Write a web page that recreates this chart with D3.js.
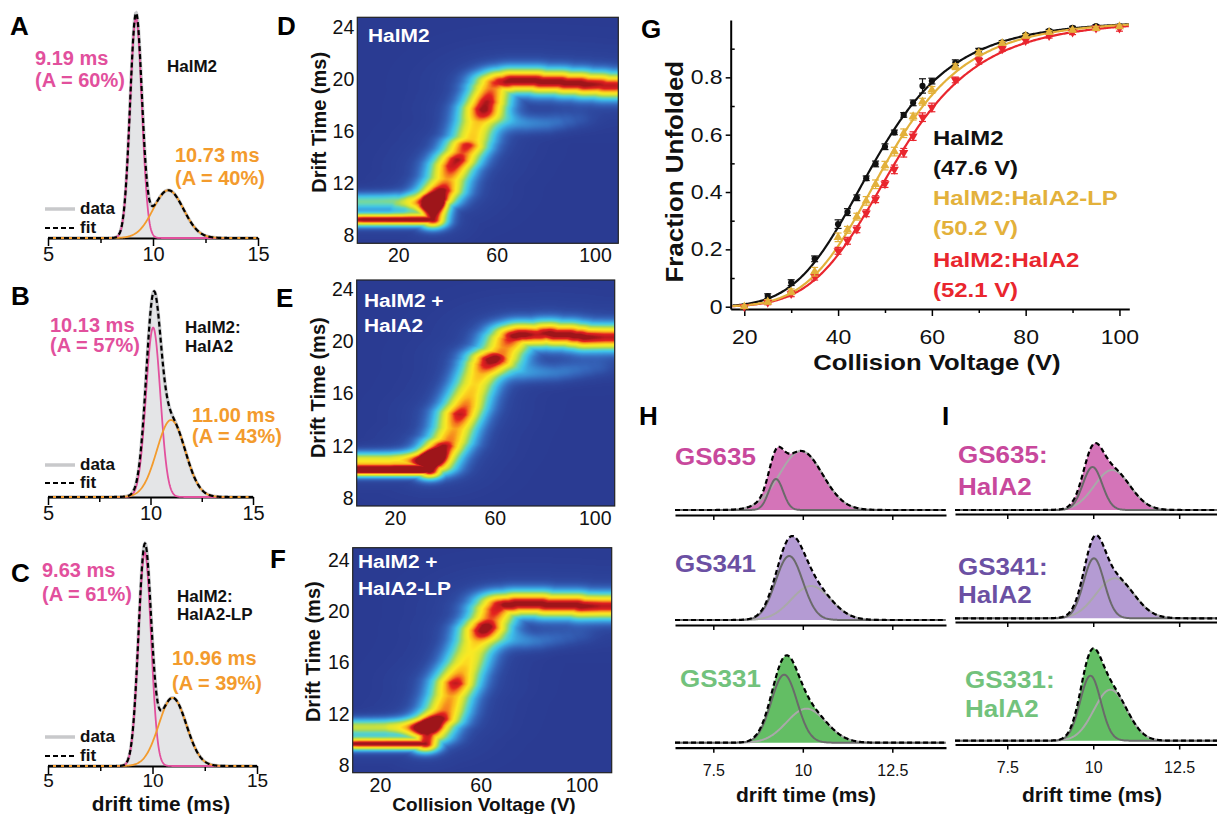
<!DOCTYPE html>
<html>
<head>
<meta charset="utf-8">
<script src="https://cdn.jsdelivr.net/npm/d3@7"></script>
<style>
  body { margin: 0; background: #fff; }
  svg { display: block; }
</style>
</head>
<body>
<script>
// ---------------- data ----------------

// A-C : arrival time distributions, two gaussian components each
const atdNames = [["HalM2"], ["HalM2:", "HalA2"], ["HalM2:", "HalA2-LP"]];
const fastCenter = [9.19, 10.13, 9.63];
const fastSigma = [0.28, 0.35, 0.30];
const fastHeight = [1.0, 0.77, 0.97];
const fastArea = [60, 57, 61];
const slowCenter = [10.73, 11.00, 10.96];
const slowSigma = [0.72, 0.69, 0.66];
const slowHeight = [0.217, 0.35, 0.31];
const slowArea = [40, 43, 39];

// D-F : CIU fingerprints, main feature centroid (ms) per collision voltage
const ciuTitles = [["HalM2"], ["HalM2 +", "HalA2"], ["HalM2 +", "HalA2-LP"]];
const voltsDE = [4,6,8,10,12,14,16,18,20,22,24,26,28,30,32,34,36,38,40,42,44,46,48,50,52,54,56,58,60,62,64,66,68,70,72,74,76,78,80,82,84,86,88,90,92,94,96,98,100,102,104,106,108];
const voltsF = [10,12,14,16,18,20,22,24,26,28,30,32,34,36,38,40,42,44,46,48,50,52,54,56,58,60,62,64,66,68,70,72,74,76,78,80,82,84,86,88,90,92,94,96,98,100,102,104,106,108,110,112];
const driftD = [9.2,9.2,9.2,9.2,9.2,9.2,9.2,9.2,9.2,9.2,9.2,9.2,9.2,9.2,9.2,9.2,
  11.0,11.5,12.3,13.3,13.8,14.3,14.9,15.4,16.7,17.7,18.3,19.3,19.7,
  19.8,19.8,19.9,19.9,19.9,19.9,19.9,19.9,19.8,19.8,19.8,19.8,19.8,19.7,19.7,19.7,19.7,19.6,19.6,19.6,19.6,19.5,19.5,19.5];
const ampD = [0.95,0.97,0.97,0.97,0.97,0.97,0.97,0.97,0.97,0.97,0.97,0.97,0.97,0.97,0.97,0.95,
  0.85,0.93,0.78,0.92,0.95,0.85,0.9,0.72,0.7,0.9,0.93,0.82,0.88,
  0.92,0.95,0.97,0.97,0.97,0.97,0.97,0.97,0.97,0.97,0.97,0.97,0.97,0.97,0.97,0.97,0.97,0.97,0.96,0.95,0.94,0.93,0.93,0.93];
const widthD = [0.33,0.33,0.33,0.33,0.33,0.33,0.33,0.33,0.33,0.33,0.33,0.33,0.33,0.33,0.33,0.33,
  0.6,0.6,0.6,0.6,0.6,0.6,0.6,0.6,0.6,0.6,0.6,0.62,0.65,
  0.68,0.68,0.68,0.68,0.68,0.68,0.68,0.68,0.68,0.68,0.68,0.68,0.68,0.68,0.68,0.68,0.68,0.68,0.68,0.68,0.68,0.68,0.68,0.68];
const driftE = [10.1,10.1,10.1,10.1,10.1,10.1,10.1,10.1,10.1,10.1,10.1,10.1,10.1,10.1,10.1,10.1,
  10.6,11.4,12.0,12.4,13.3,14.4,15.0,15.9,16.7,17.5,18.2,18.6,18.8,
  19.0,19.5,20.1,20.4,20.5,20.5,20.5,20.5,20.5,20.6,20.6,20.5,20.5,20.5,20.5,20.4,20.4,20.3,20.3,20.3,20.3,20.3,20.3,20.3];
const ampE = [0.95,0.97,0.97,0.97,0.97,0.97,0.97,0.97,0.97,0.97,0.97,0.97,0.97,0.97,0.97,0.95,
  0.8,0.88,0.93,0.82,0.78,0.93,0.84,0.74,0.7,0.74,0.84,0.93,0.92,
  0.8,0.8,0.88,0.97,0.97,0.97,0.95,0.93,0.93,0.95,0.97,0.97,0.97,0.97,0.97,0.97,0.97,0.97,0.96,0.95,0.94,0.93,0.93,0.93];
const widthE = [0.32,0.32,0.32,0.32,0.32,0.32,0.32,0.32,0.32,0.32,0.32,0.32,0.32,0.32,0.32,0.32,
  0.6,0.6,0.6,0.6,0.6,0.6,0.6,0.6,0.6,0.6,0.6,0.62,0.65,
  0.66,0.68,0.68,0.68,0.68,0.68,0.68,0.68,0.68,0.68,0.68,0.68,0.68,0.68,0.68,0.68,0.68,0.68,0.68,0.68,0.68,0.68,0.68,0.68];
const driftF = [9.7,9.7,9.7,9.7,9.7,9.7,9.7,9.7,9.7,9.7,9.7,9.7,9.7,9.7,9.7,
  10.5,11.3,11.7,12.3,13.4,14.4,15.2,15.9,16.8,17.6,18.5,18.9,19.4,20.1,
  20.5,20.5,20.5,20.6,20.6,20.6,20.6,20.6,20.6,20.5,20.5,20.5,20.5,20.5,20.5,20.5,20.4,20.4,20.4,20.4,20.4,20.4,20.4];
const ampF = [0.95,0.97,0.97,0.97,0.97,0.97,0.97,0.97,0.97,0.97,0.97,0.97,0.97,0.97,0.95,
  0.75,0.85,0.93,0.82,0.78,0.93,0.78,0.7,0.66,0.7,0.88,0.93,0.84,0.9,
  0.93,0.97,0.97,0.97,0.97,0.97,0.97,0.97,0.97,0.97,0.97,0.97,0.97,0.97,0.97,0.97,0.97,0.96,0.95,0.94,0.93,0.93,0.93];
const widthF = [0.33,0.33,0.33,0.33,0.33,0.33,0.33,0.33,0.33,0.33,0.33,0.33,0.33,0.33,0.33,
  0.6,0.6,0.6,0.6,0.6,0.6,0.6,0.6,0.6,0.6,0.6,0.6,0.62,0.65,
  0.68,0.68,0.68,0.68,0.68,0.68,0.68,0.68,0.68,0.68,0.68,0.68,0.68,0.68,0.68,0.68,0.68,0.68,0.68,0.68,0.68,0.68,0.68];

// second conformer band at low voltage
const conf2Volts = [[4,6,8,10,12,14,16,18,20,22,24,26,28,30,32,34],
                    [4,6,8,10,12,14,16,18,20,22,24,26,28,30,32,34],
                    [10,12,14,16,18,20,22,24,26,28,30,32,34,36,38]];
const conf2Drift = [[10.6,10.6,10.6,10.6,10.6,10.6,10.6,10.6,10.5,10.5,10.5,10.4,10.4,10.4,10.5,10.6],
                    [10.9,10.9,10.9,10.9,10.9,10.9,10.9,10.9,10.9,10.9,10.9,10.9,10.9,10.9,11.0,11.1],
                    [11.0,11.0,11.0,11.0,11.0,11.0,11.0,11.0,11.0,11.0,11.0,11.0,11.0,11.0,11.1]];
const conf2Amp = [[0.42,0.42,0.42,0.42,0.42,0.42,0.42,0.42,0.46,0.5,0.54,0.57,0.6,0.62,0.62,0.56],
                  [0.6,0.6,0.6,0.6,0.6,0.6,0.6,0.6,0.62,0.62,0.62,0.62,0.62,0.62,0.62,0.58],
                  [0.55,0.55,0.55,0.55,0.55,0.55,0.55,0.58,0.58,0.58,0.58,0.58,0.58,0.58,0.52]];
// faint feature under the unfolded plateau
const ghostVolts = [[60,64,68,72,76,80,84,88,92],
                    [64,68,72,76,80,84,88,92,96,100],
                    [66,70,74,78,82,86,90,94,98]];
const ghostDrift = [[17.2,16.9,16.7,16.6,16.6,16.6,16.7,16.8,16.9],
                    [18.0,17.8,17.6,17.6,17.6,17.6,17.7,17.8,17.9,18.0],
                    [18.2,17.9,17.8,17.7,17.7,17.8,17.9,18.0,18.1]];
const ghostAmp = [[0.2,0.2,0.18,0.17,0.16,0.15,0.13,0.1,0.07],
                  [0.22,0.2,0.18,0.17,0.16,0.15,0.14,0.12,0.1,0.08],
                  [0.2,0.18,0.17,0.16,0.14,0.12,0.1,0.08,0.06]];

// G : fraction unfolded vs collision voltage
const cvG = [20,25,30,35,40,42,44,46,48,50,52,54,56,58,60,65,70,75,80,85,90,95,100];
const fuHalM2 = [0.0,0.037,0.084,0.167,0.288,0.33,0.38,0.448,0.498,0.558,0.608,0.669,0.711,0.77,0.787,0.851,0.893,0.922,0.948,0.962,0.973,0.979,0.979];
const fuHalA2LP = [0.0,0.017,0.052,0.122,0.242,0.268,0.314,0.369,0.427,0.492,0.541,0.605,0.663,0.715,0.756,0.837,0.886,0.919,0.944,0.957,0.965,0.971,0.977];
const fuHalA2 = [0.0,0.015,0.045,0.105,0.195,0.23,0.27,0.326,0.375,0.428,0.479,0.537,0.595,0.661,0.695,0.791,0.858,0.899,0.928,0.945,0.957,0.971,0.971];
const errHalM2 = [0.005,0.008,0.01,0.01,0.015,0.012,0.01,0.008,0.01,0.01,0.008,0.008,0.01,0.025,0.01,0.01,0.008,0.006,0.005,0.005,0.005,0.005,0.005];
const errHalA2LP = [0.005,0.008,0.01,0.015,0.015,0.012,0.012,0.015,0.015,0.015,0.015,0.015,0.012,0.012,0.012,0.01,0.008,0.006,0.006,0.006,0.006,0.006,0.006];
const errHalA2 = [0.005,0.008,0.01,0.012,0.012,0.012,0.012,0.012,0.012,0.012,0.015,0.015,0.015,0.015,0.015,0.01,0.012,0.008,0.008,0.008,0.008,0.008,0.01];
const cv50 = [47.6, 50.2, 52.1];
const hillN = [5.5, 5.8, 5.7];
const gNames = ["HalM2", "HalM2:HalA2-LP", "HalM2:HalA2"];

// H, I : GS variants, compact + extended gaussian components
const gsNames = ["GS635", "GS341", "GS331"];
const hCompCenter = [9.25, 9.62, 9.48], hCompSigma = [0.2, 0.38, 0.36], hCompHeight = [0.31, 0.64, 0.68];
const hExtCenter = [9.95, 10.23, 10.1], hExtSigma = [0.6, 0.55, 0.55], hExtHeight = [0.59, 0.34, 0.34];
const iCompCenter = [9.98, 10.02, 9.92], iCompSigma = [0.28, 0.30, 0.30], iCompHeight = [0.43, 0.60, 0.65];
const iExtCenter = [10.55, 10.63, 10.5], iExtSigma = [0.52, 0.55, 0.48], iExtHeight = [0.40, 0.40, 0.51];

// ---------------- drawing ----------------
const FONT = '"Liberation Sans", Arial, Helvetica, sans-serif';
const svg = d3.select("body").append("svg")
  .attr("width", 1217).attr("height", 814)
  .style("font-family", FONT);

function gauss(t, c, s, h) { return h * Math.exp(-0.5 * ((t - c) / s) * ((t - c) / s)); }

// sx : horizontal stretch of the glyphs (the published figure is a bit wider than tall)
function txt(g, x, y, s, size, fill, bold, anchor, sx) {
  const t = g.append("text").text(s)
    .attr("font-size", size).attr("fill", fill || "#000")
    .attr("font-weight", bold ? "bold" : "normal")
    .attr("text-anchor", anchor || "start");
  if (sx && sx !== 1) t.attr("transform", `translate(${x},${y}) scale(${sx},1)`);
  else t.attr("x", x).attr("y", y);
  return t;
}
function styleAxis(ax, size, sx) {
  ax.attr("font-family", null).attr("font-size", size);
  ax.selectAll("text").attr("fill", "#111");
  if (sx) ax.selectAll("text").attr("transform", `scale(${sx},1)`);
}

// panel letters
const letters = ["A","B","C","D","E","F","G","H","I"];
const letterPos = [[10,35],[11,305],[11,582],[277,35],[276,307],[270,568],[641,38],[639,425],[942,425]];
letters.forEach((l, i) => txt(svg, letterPos[i][0], letterPos[i][1], l, 26, "#000", true));

// ---- A-C ----
const PINK = "#e2509d", ORANGE = "#f39b2d";
const atdLayout = [
  { x: [48, 258], base: 238, name: [167, [71.7]], fast: [35, [65, 87]], slow: [175, [161.7, 185]], leg: [209, 228] },
  { x: [48, 253], base: 497, name: [185, [333, 352]], fast: [50, [331.7, 352]], slow: [192, [422, 443]], leg: [465, 483] },
  { x: [48, 257], base: 766, name: [177, [601.7, 620]], fast: [42, [577, 601]], slow: [172, [665, 690]], leg: [737, 756] }
];
atdLayout.forEach((L, i) => {
  const g = svg.append("g");
  const x = d3.scaleLinear().domain([5, 15]).range(L.x);
  const y = d3.scaleLinear().domain([0, 1]).range([L.base, L.base - 220]);
  const fast = t => gauss(t, fastCenter[i], fastSigma[i], fastHeight[i]);
  const slow = t => gauss(t, slowCenter[i], slowSigma[i], slowHeight[i]);
  const grid = d3.range(5, 15.0001, 0.02);
  g.append("path").datum(grid)
    .attr("d", d3.area().x(x).y0(y(0)).y1(t => y(fast(t) + slow(t))))
    .attr("fill", "#e4e5e7");
  g.append("path").datum(grid)
    .attr("d", d3.line().x(x).y(t => y(fast(t) + slow(t))))
    .attr("fill", "none").attr("stroke", "#c8c9cb").attr("stroke-width", 3.5);
  g.append("g").attr("transform", `translate(0,${L.base})`)
    .call(d3.axisBottom(x).tickValues([5, 10, 15]).tickSize(8).tickSizeOuter(0).tickPadding(i === 2 ? 0 : 1))
    .call(ax => { styleAxis(ax, i === 2 ? 19 : 20); ax.select(".domain").attr("stroke-width", 2.2); ax.selectAll("line").attr("stroke-width", 1.5); });
  g.append("g").attr("transform", `translate(0,${L.base})`)
    .call(d3.axisBottom(x).tickValues([7.5, 12.5]).tickSize(5).tickSizeOuter(0).tickFormat(""))
    .call(ax => { ax.select(".domain").remove(); ax.selectAll("line").attr("stroke-width", 1.5); });
  g.append("path").datum(grid).attr("d", d3.line().x(x).y(t => y(fast(t))))
    .attr("fill", "none").attr("stroke", PINK).attr("stroke-width", 1.8);
  g.append("path").datum(grid).attr("d", d3.line().x(x).y(t => y(slow(t))))
    .attr("fill", "none").attr("stroke", ORANGE).attr("stroke-width", 1.8);
  g.append("path").datum(grid).attr("d", d3.line().x(x).y(t => y(fast(t) + slow(t))))
    .attr("fill", "none").attr("stroke", "#000").attr("stroke-width", 2.2).attr("stroke-dasharray", "5,3");

  txt(g, L.fast[0], L.fast[1][0], fastCenter[i].toFixed(2) + " ms", 20, PINK, true);
  txt(g, L.fast[0], L.fast[1][1], "(A = " + fastArea[i] + "%)", 20, PINK, true);
  txt(g, L.slow[0], L.slow[1][0], slowCenter[i].toFixed(2) + " ms", 20, ORANGE, true);
  txt(g, L.slow[0], L.slow[1][1], "(A = " + slowArea[i] + "%)", 20, ORANGE, true);
  atdNames[i].forEach((s, k) => txt(g, L.name[0], L.name[1][k], s, 17, "#111", true));
  // legend
  g.append("line").attr("x1", 45).attr("x2", 75).attr("y1", L.leg[0]).attr("y2", L.leg[0])
    .attr("stroke", "#c8c9cb").attr("stroke-width", 3.5);
  g.append("line").attr("x1", 45).attr("x2", 75).attr("y1", L.leg[1]).attr("y2", L.leg[1])
    .attr("stroke", "#000").attr("stroke-width", 2).attr("stroke-dasharray", "5,3");
  txt(g, 80, L.leg[0] + 5, "data", 17, "#111", true);
  txt(g, 80, L.leg[1] + 5, "fit", 17, "#111", true);
  if (i === 2) txt(g, 161, 810.5, "drift time (ms)", 20, "#111", true, "middle", 1.04);
});

// ---- D-F heat maps ----
const jetStops = [0, 0.05, 0.12, 0.2, 0.3, 0.4, 0.5, 0.6, 0.7, 0.8, 0.87, 0.92, 0.97, 1];
const jetColors = ["#2a3b92", "#2e4aa1", "#3566bb", "#3a8fd6", "#3ec0ea", "#5fd6c0", "#a2d960", "#dbe531", "#fbe923", "#fbb81d", "#f4731f", "#e3221f", "#c81b1f", "#9e151a"];
const jet = d3.scaleLinear().domain(jetStops).range(jetColors).clamp(true);
const lut = d3.range(256).map(k => d3.rgb(jet(k / 255)));

function ridgeValue(V, T, f) {
  let best = 0;
  for (let i = 0; i < f.v.length - 1; i++) {
    const wi = Array.isArray(f.w) ? (f.w[i] + f.w[i + 1]) / 2 : f.w;
    const st = wi * f.ws, sv = st * (wi >= 0.5 ? 10.5 : 9);
    const va = f.v[i], vb = f.v[i + 1];
    if ((V < va - 3.5 * sv && V < vb - 3.5 * sv) || (V > va + 3.5 * sv && V > vb + 3.5 * sv)) continue;
    const x0 = va / sv, y0 = f.t[i] / st, x1 = vb / sv, y1 = f.t[i + 1] / st;
    const px = V / sv, py = T / st;
    const dx = x1 - x0, dy = y1 - y0;
    let u = ((px - x0) * dx + (py - y0) * dy) / (dx * dx + dy * dy);
    u = Math.max(0, Math.min(1, u));
    const ex = x0 + u * dx - px, ey = y0 + u * dy - py;
    const d2 = ex * ex + ey * ey;
    if (d2 > 14) continue;
    const a = (f.a[i] + u * (f.a[i + 1] - f.a[i])) * f.k;
    const gv = a * Math.exp(-0.5 * d2);
    if (gv > best) best = gv;
  }
  return best;
}

const heatLayout = [
  { rect: [357.3, 17.3, 261, 226], xd: [3.3, 109.5], yd: [7.38, 24.77], title: [368, [41.7]], ylab: [326, 122.3] },
  { rect: [356.7, 280, 258, 226], xd: [4.7, 108], yd: [7.39, 24.69], title: [364, [306.7, 331.7]], ylab: [325, 387.7] },
  { rect: [352.7, 547.7, 259, 225], xd: [9.2, 112], yd: [7.45, 24.94], title: [358, [568.3, 595]], ylab: [320, 651.7] }
];
const ciuVolts = [voltsDE, voltsDE, voltsF];
const ciuDrift = [driftD, driftE, driftF];
const ciuAmp = [ampD, ampE, ampF];
const ciuWidth = [widthD, widthE, widthF];

heatLayout.forEach((L, i) => {
  const [rx, ry, rw, rh] = L.rect;
  const g = svg.append("g").attr("transform", `translate(${rx},${ry})`);
  const x = d3.scaleLinear().domain(L.xd).range([0, rw]);
  const y = d3.scaleLinear().domain(L.yd).range([rh, 0]);
  const feats = [
    { v: ciuVolts[i], t: ciuDrift[i], a: ciuAmp[i], w: ciuWidth[i], k: 1, ws: 1 },
    { v: ciuVolts[i], t: ciuDrift[i], a: ciuAmp[i], w: ciuWidth[i], k: 0.05, ws: 2.6 },
    { v: conf2Volts[i], t: conf2Drift[i], a: conf2Amp[i], w: 0.45, k: 1, ws: 1 },
    { v: ghostVolts[i], t: ghostDrift[i], a: ghostAmp[i], w: 0.5, k: 1, ws: 1 }
  ];
  const canvas = document.createElement("canvas");
  canvas.width = rw; canvas.height = rh;
  const ctx = canvas.getContext("2d");
  const img = ctx.createImageData(rw, rh);
  for (let py = 0; py < rh; py++) {
    const T = y.invert(py + 0.5);
    for (let px = 0; px < rw; px++) {
      const V = x.invert(px + 0.5);
      let s = 0;
      feats.forEach(f => { s += ridgeValue(V, T, f); });
      const c = lut[Math.round(Math.min(1, s) * 255)];
      const o = (py * rw + px) * 4;
      img.data[o] = c.r; img.data[o + 1] = c.g; img.data[o + 2] = c.b; img.data[o + 3] = 255;
    }
  }
  ctx.putImageData(img, 0, 0);
  g.append("image").attr("href", canvas.toDataURL()).attr("width", rw).attr("height", rh)
    .attr("preserveAspectRatio", "none");
  g.append("rect").attr("width", rw).attr("height", rh).attr("fill", "none")
    .attr("stroke", "#222").attr("stroke-width", 1.2);
  g.append("g").call(d3.axisLeft(y).tickValues([8, 12, 16, 20, 24]).tickSize(0).tickPadding(3))
    .call(ax => { styleAxis(ax, 19.5); ax.select(".domain").remove(); });
  g.append("g").attr("transform", `translate(0,${rh})`)
    .call(d3.axisBottom(x).tickValues([20, 60, 100]).tickSize(0).tickPadding(5))
    .call(ax => { styleAxis(ax, 19.5); ax.select(".domain").remove(); });
  ciuTitles[i].forEach((s, k) => txt(svg, L.title[0], L.title[1][k], s, 19, "#fff", true, "start", 1.1));
  svg.append("text").attr("transform", `translate(${L.ylab[0]},${L.ylab[1]}) rotate(-90)`)
    .attr("text-anchor", "middle").attr("font-size", 20).attr("font-weight", "bold")
    .attr("fill", "#111").text("Drift Time (ms)");
});
txt(svg, 484, 811, "Collision Voltage (V)", 19, "#111", true, "middle");

// ---- G ----
const gColors = ["#111111", "#e3b13b", "#e9262e"];
const gSymbols = [d3.symbolCircle, d3.symbolTriangle, d3.symbolTriangle];
const gValues = [fuHalM2, fuHalA2LP, fuHalA2];
const gErrors = [errHalM2, errHalA2LP, errHalA2];
const gx = d3.scaleLinear().domain([17.1, 102.1]).range([730.7, 1129.3]);
const gy = d3.scaleLinear().domain([-0.008, 1.0]).range([309, 20]);
const gG = svg.append("g");
gG.append("g").attr("transform", "translate(0,309)")
  .call(d3.axisBottom(gx).tickValues([20, 40, 60, 80, 100]).tickSize(7).tickSizeOuter(0).tickPadding(14))
  .call(ax => { styleAxis(ax, 20, 1.15); ax.select(".domain").attr("stroke-width", 2); ax.selectAll("line").attr("stroke-width", 1.5); });
gG.append("g").attr("transform", "translate(0,309)")
  .call(d3.axisBottom(gx).tickValues([30, 50, 70, 90]).tickSize(4).tickFormat(""))
  .call(ax => { ax.select(".domain").remove(); ax.selectAll("line").attr("stroke-width", 1.5); });
gG.append("g").attr("transform", "translate(730.7,0)")
  .call(d3.axisLeft(gy).tickValues([0, 0.2, 0.4, 0.6, 0.8]).tickSize(5).tickSizeOuter(0).tickPadding(2)
    .tickFormat(d => d === 0 ? "0" : d.toFixed(1)))
  .call(ax => { styleAxis(ax, 20, 1.15); ax.select(".domain").attr("stroke-width", 2); ax.selectAll("line").attr("stroke-width", 1.5); });
gG.append("g").attr("transform", "translate(730.7,0)")
  .call(d3.axisRight(gy).tickValues([0.1, 0.3, 0.5, 0.7, 0.9]).tickSize(4).tickFormat(""))
  .call(ax => { ax.select(".domain").remove(); ax.selectAll("line").attr("stroke-width", 1.5); });

const vGrid = d3.range(17.5, 102.01, 0.25);
[0, 2, 1].forEach(s => {
  gG.append("path").datum(vGrid)
    .attr("d", d3.line().x(gx).y(v => gy(1 / (1 + Math.pow(cv50[s] / v, hillN[s])))))
    .attr("fill", "none").attr("stroke", gColors[s]).attr("stroke-width", 2.2);
});
[0, 2, 1].forEach(s => {
  const sg = gG.append("g");
  cvG.forEach((v, k) => {
    const yv = gValues[s][k], e = gErrors[s][k];
    sg.append("line").attr("x1", gx(v)).attr("x2", gx(v)).attr("y1", gy(yv - e)).attr("y2", gy(yv + e))
      .attr("stroke", gColors[s]).attr("stroke-width", 1.2);
    [yv - e, yv + e].forEach(c => sg.append("line").attr("x1", gx(v) - 3.5).attr("x2", gx(v) + 3.5)
      .attr("y1", gy(c)).attr("y2", gy(c)).attr("stroke", gColors[s]).attr("stroke-width", 1.2));
    sg.append("path").attr("d", d3.symbol().type(gSymbols[s]).size(s === 0 ? 30 : 36)())
      .attr("transform", `translate(${gx(v)},${gy(yv)})` + (s === 2 ? " rotate(180)" : ""))
      .attr("fill", gColors[s]);
  });
});
svg.append("text").attr("transform", "translate(683,171.7) rotate(-90) scale(1.08,1)")
  .attr("text-anchor", "middle").attr("font-size", 24).attr("font-weight", "bold")
  .attr("fill", "#111").text("Fraction Unfolded");
txt(svg, 937, 370, "Collision Voltage (V)", 22.5, "#111", true, "middle", 1.14);
const gLegY = [[145, 175], [205, 235], [267, 297]];
gNames.forEach((n, s) => {
  txt(svg, 933, gLegY[s][0], n, 21, gColors[s], true, "start", 1.14);
  txt(svg, 933, gLegY[s][1], "(" + cv50[s].toFixed(1) + " V)", 21, gColors[s], true, "start", 1.14);
});

// ---- H, I ----
const gsFill = ["#d474b8", "#b49bd3", "#63be64"];
const gsText = ["#c8489c", "#6b50a3", "#72c27c"];
const gsLayout = [
  { xr: [675, 946], xd: [6.43, 14.0], base: [510, 620, 742.7], axis: [515, 625, 747.7],
    comp: [hCompCenter, hCompSigma, hCompHeight], ext: [hExtCenter, hExtSigma, hExtHeight],
    labels: [[675, [465]], [675, [571.7]], [680, [686.7]]], suffix: false, title: 806 },
  { xr: [955, 1217], xd: [5.98, 13.6], base: [510, 618.3, 740.7], axis: [514, 622, 744.5],
    comp: [iCompCenter, iCompSigma, iCompHeight], ext: [iExtCenter, iExtSigma, iExtHeight],
    labels: [[958, [463, 495]], [958, [575, 603.3]], [965, [688.3, 716.7]]], suffix: true, title: 1092 }
];
gsLayout.forEach(L => {
  const x = d3.scaleLinear().domain(L.xd).range(L.xr);
  const grid = d3.range(L.xd[0], L.xd[1] + 0.001, 0.02);
  gsNames.forEach((name, r) => {
    const g = svg.append("g");
    const y = d3.scaleLinear().domain([0, 1]).range([L.base[r], L.base[r] - 100]);
    const comp = t => gauss(t, L.comp[0][r], L.comp[1][r], L.comp[2][r]);
    const ext = t => gauss(t, L.ext[0][r], L.ext[1][r], L.ext[2][r]);
    g.append("path").datum(grid).attr("d", d3.area().x(x).y0(y(0)).y1(t => y(comp(t) + ext(t))))
      .attr("fill", gsFill[r]);
    g.append("path").datum(grid).attr("d", d3.line().x(x).y(t => y(ext(t))))
      .attr("fill", "none").attr("stroke", "#a9a9a9").attr("stroke-width", 2);
    g.append("path").datum(grid).attr("d", d3.line().x(x).y(t => y(comp(t))))
      .attr("fill", "none").attr("stroke", "#6a6a6a").attr("stroke-width", 2);
    g.append("path").datum(grid).attr("d", d3.line().x(x).y(t => y(comp(t) + ext(t))))
      .attr("fill", "none").attr("stroke", "#000").attr("stroke-width", 2.2).attr("stroke-dasharray", "5,3");
    g.append("g").attr("transform", `translate(0,${L.axis[r]})`)
      .call(d3.axisBottom(x).tickValues([7.5, 10, 12.5]).tickSize(5).tickSizeOuter(0).tickPadding(12)
        .tickFormat(r === 2 ? (d => String(d)) : ""))
      .call(ax => { styleAxis(ax, 16); ax.select(".domain").attr("stroke-width", 2.2); ax.selectAll("line").attr("stroke-width", 1.5); });
    const lab = L.labels[r];
    txt(g, lab[0], lab[1][0], name + (L.suffix ? ":" : ""), 23, gsText[r], true, "start", 1.13);
    if (L.suffix) txt(g, lab[0], lab[1][1], "HalA2", 23, gsText[r], true, "start", 1.13);
  });
  txt(svg, L.title, 802, "drift time (ms)", 21, "#111", true, "middle");
});
</script>
</body>
</html>
